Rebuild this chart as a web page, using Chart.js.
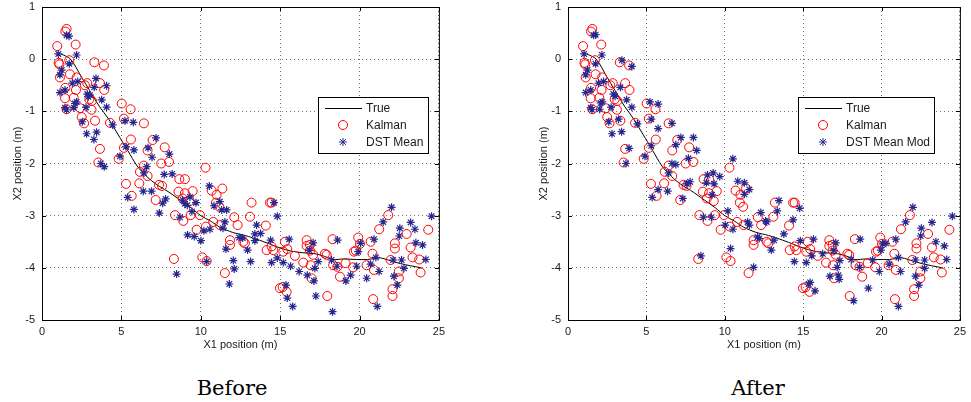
<!DOCTYPE html>
<html>
<head>
<meta charset="utf-8">
<script src="https://cdn.jsdelivr.net/npm/chart.js@4.4.1/dist/chart.umd.min.js"></script>
<style>
body { margin: 0; background: #fff; width: 971px; height: 402px; position: relative; overflow: hidden; }
.box { position: absolute; top: 0; }
.cap { position: absolute; top: 376px; font-family: "DejaVu Serif", serif; font-size: 21px; line-height: 24px; transform: translateX(-50%); color: #000; }
</style>
</head>
<body>
<div class="box" style="left:0;width:450px;height:362px"><canvas id="before" width="450" height="362"></canvas></div>
<div class="box" style="left:526px;width:445px;height:362px"><canvas id="after" width="445" height="362"></canvas></div>
<div class="cap" style="left:232px">Before</div>
<div class="cap" style="left:758px">After</div>
<script>
// ---- data ----
const xTicks = [0, 5, 10, 15, 20, 25];
const yTicks = [-5, -4, -3, -2, -1, 0, 1];

const trueX = [1.2, 1.8, 2.5, 3.0, 3.6, 4.2, 4.8, 5.4, 6.0, 6.6, 7.2, 8.0, 8.7, 9.4, 10.0, 10.6, 11.2, 12.0, 12.8, 13.7, 14.4, 15.0, 15.7, 16.4, 17.2, 17.8, 18.3, 19.0, 19.8, 20.5, 21.3, 22.0, 22.6, 23.2, 23.9];
const trueY = [0.1, 0.0, -0.35, -0.6, -0.9, -1.15, -1.45, -1.75, -2.05, -2.25, -2.4, -2.55, -2.7, -2.85, -3.0, -3.1, -3.22, -3.32, -3.38, -3.47, -3.55, -3.62, -3.68, -3.71, -3.73, -3.78, -3.84, -3.83, -3.84, -3.84, -3.81, -3.87, -3.92, -3.96, -4.0];

const kalman = [
  [1.55,0.58],[1.47,0.53],[0.96,0.25],[2.12,0.28],[1.72,-0.02],[1.05,-0.07],[1.1,-0.1],[3.3,-0.06],[3.9,-0.12],[1.13,-0.35],
  [1.76,-0.29],[2.18,-0.35],[2.7,-0.5],[2.85,-0.46],[3.65,-0.46],[3.92,-0.59],[1.47,-0.55],[2.14,-0.59],[1.45,-0.75],[2.0,-0.74],
  [2.98,-0.77],[3.15,-0.8],[2.4,-0.94],[3.12,-0.97],[1.55,-0.96],[5.02,-0.85],[5.58,-0.96],[2.5,-1.11],[2.65,-1.23],[3.34,-1.18],
  [4.28,-1.22],[5.16,-1.14],[6.42,-1.23],[5.6,-1.54],[6.97,-1.55],[3.65,-1.72],[5.16,-1.7],[6.65,-1.75],[7.73,-1.69],[3.55,-1.98],
  [4.83,-1.91],[6.42,-2.04],[7.51,-2.0],[8.0,-1.97],[10.3,-2.08],
  [6.17,-2.16],[6.65,-2.24],[5.29,-2.39],[6.13,-2.38],[7.37,-2.41],[7.56,-2.43],[5.65,-2.62],[7.16,-2.7],[8.65,-2.3],[9.0,-2.3],
  [8.6,-2.54],[9.0,-2.57],[9.49,-2.53],[8.86,-2.67],[9.3,-2.72],[8.38,-2.99],[8.9,-3.1],[9.36,-2.99],[9.95,-2.99],[9.74,-3.27],
  [8.31,-3.83],[10.33,-3.21],[10.1,-3.8],[10.37,-3.87],
  [10.69,-2.52],[11.0,-2.6],[11.36,-2.48],[10.96,-2.75],[11.17,-2.83],[10.79,-3.12],[11.21,-3.18],[11.84,-3.47],[11.84,-3.56],[12.11,-3.03],
  [12.32,-3.18],[11.52,-4.1],[12.68,-3.5],[12.78,-3.53],[13.1,-3.02],[13.2,-2.75],[14.1,-3.19],[14.36,-2.75],[14.46,-2.75],[14.15,-3.66],
  [14.46,-3.59],[14.57,-3.66],[14.99,-4.39],[15.16,-4.37],[15.41,-4.46],[15.3,-3.5],[15.2,-3.69],[15.45,-3.64],[15.93,-3.77],[16.46,-3.9],
  [16.67,-3.47],[16.67,-3.58],[16.88,-3.56],[16.88,-3.67],[16.92,-3.95],[16.98,-4.2],[17.08,-3.75],[17.82,-3.73],[17.93,-3.75],[17.97,-4.54],
  [18.3,-3.45],[18.34,-3.95],[18.6,-3.98],[18.77,-4.17],[19.12,-3.91],[19.6,-3.99],[19.65,-3.69],[19.77,-3.67],[19.92,-3.42],[20.03,-3.54],
  [20.45,-3.95],[20.7,-3.5],[20.82,-3.73],[20.86,-4.6],[20.91,-4.04],[21.24,-3.26],[21.81,-2.99],[21.96,-3.85],[22.08,-4.41],[22.08,-4.54],
  [22.23,-3.53],[22.23,-3.63],[22.48,-4.07],[22.48,-4.2],[22.97,-3.35],[23.22,-3.61],[23.34,-3.8],[23.76,-3.84],[23.85,-4.09],[24.33,-3.27]
];

const dstBefore = [
  [1.55,0.46],[1.7,0.44],[1.03,0.1],[2.18,0.08],[1.72,-0.09],[1.24,-0.21],[1.13,-0.3],[1.13,-0.64],[1.45,-0.59],[1.91,-0.46],
  [2.25,-0.43],[2.85,-0.67],[2.92,-0.72],[3.02,-0.69],[3.4,-0.37],[3.29,-0.54],[4.07,-0.51],[3.76,-0.78],[4.07,-0.92],[2.18,-0.82],
  [2.08,-0.85],[1.55,-0.97],[1.45,-0.93],[2.0,-0.93],[2.77,-0.92],[2.54,-1.2],[4.45,-1.26],[5.23,-1.18],[5.75,-1.21],[2.81,-1.43],
  [3.44,-1.4],[3.27,-1.54],[5.29,-1.68],[5.79,-1.74],[6.68,-1.7],[7.18,-1.51],[8.02,-1.82],[6.93,-1.88],[4.91,-1.86],[3.7,-2.0],
  [3.92,-2.06],[6.59,-2.06],
  [6.42,-2.18],[7.7,-2.21],[8.2,-2.2],[6.38,-2.53],[6.9,-2.53],[5.4,-2.65],[5.79,-2.88],[7.39,-2.95],[7.6,-2.76],[7.79,-2.68],
  [8.69,-3.03],[8.86,-2.7],[9.0,-2.77],[9.15,-2.8],[9.32,-2.64],[9.44,-2.92],[9.7,-2.75],[9.17,-3.37],[9.59,-3.4],[10.01,-3.48],
  [10.2,-3.29],[10.58,-3.26],[10.54,-2.43],[10.83,-2.81],[11.2,-2.73],[11.32,-2.89],[11.63,-2.89],[11.52,-3.12],[11.4,-3.24],[10.37,-3.88],
  [8.48,-4.12],[12.11,-4.02],[12.05,-3.86],[11.8,-4.31],[11.59,-3.64],[12.42,-3.42],[12.64,-3.43],[12.95,-3.66],[13.14,-3.88],[13.41,-3.35],
  [13.52,-3.18],[13.41,-3.48],[13.77,-3.34],[14.4,-3.47],[14.61,-2.75],[14.82,-3.01],[14.46,-3.9],[14.82,-3.81],[15.2,-3.9],[15.37,-4.33],
  [15.45,-4.58],[15.57,-3.45],[15.79,-4.74],[15.66,-3.97],[16.2,-4.07],[16.71,-4.14],[16.84,-3.66],[17.08,-3.52],[17.13,-4.25],[17.19,-4.01],
  [17.25,-4.54],[17.4,-3.88],[18.24,-3.85],[18.3,-4.84],[18.58,-3.97],[18.62,-3.47],[19.14,-4.25],[19.44,-4.14],[19.82,-3.97],[20.07,-3.53],
  [19.92,-3.69],[20.45,-4.2],[20.7,-3.93],[20.91,-3.45],[21.03,-3.8],[21.12,-4.74],[21.24,-4.07],[21.49,-3.12],[22.02,-2.84],[22.12,-3.85],
  [22.17,-4.16],[22.38,-4.33],[22.54,-3.24],[22.5,-3.39],[22.65,-3.85],[22.8,-4.01],[23.22,-3.13],[23.49,-3.26],[23.55,-3.52],[23.97,-3.56],
  [24.18,-3.84],[24.54,-3.01]
];

const dstAfter = [
  [1.64,0.46],[1.76,0.47],[1.03,0.1],[2.16,0.08],[1.76,-0.09],[1.24,-0.21],[1.13,-0.3],[3.44,-0.02],[4.07,-0.14],[1.13,-0.64],
  [1.45,-0.59],[1.95,-0.46],[2.27,-0.43],[2.9,-0.67],[3.0,-0.71],[3.34,-0.54],[3.74,-0.78],[4.07,-0.92],[2.18,-0.82],[2.08,-0.84],
  [1.53,-0.97],[1.45,-0.93],[2.02,-0.96],[2.75,-0.92],[2.6,-1.2],[3.23,-1.15],[4.43,-1.24],[2.81,-1.43],[3.42,-1.39],[5.23,-0.82],
  [5.75,-0.86],[5.31,-1.15],[6.63,-1.23],[5.75,-1.33],[3.9,-1.71],[5.31,-1.66],[6.88,-1.64],[7.2,-1.5],[8.0,-1.5],[8.21,-1.75],
  [7.68,-1.9],[4.91,-1.86],[3.7,-2.0],[6.63,-2.0],[6.88,-2.02],[10.52,-1.91],
  [6.42,-2.18],[7.58,-2.39],[7.79,-2.35],[5.75,-2.5],[6.36,-2.53],[5.37,-2.65],[7.32,-2.67],[8.9,-2.22],[9.26,-2.18],[9.68,-2.25],
  [8.83,-2.37],[9.32,-2.39],[9.19,-2.6],[8.63,-3.03],[9.15,-3.03],[10.03,-3.18],[10.2,-2.91],[10.52,-3.26],[10.37,-3.63],[8.48,-3.77],
  [11.84,-3.99],[10.83,-2.34],[11.25,-2.37],[11.57,-2.5],[11.25,-2.59],[11.46,-3.12],[11.57,-3.18],[12.09,-3.41],[12.2,-3.44],[12.3,-2.94],
  [12.61,-3.1],
  [13.46,-2.71],[13.35,-2.91],[12.68,-3.12],[13.77,-3.35],[12.97,-3.66],[13.14,-3.47],[14.36,-3.08],[14.44,-3.88],[14.78,-2.86],[14.82,-3.48],
  [15.2,-3.9],[15.35,-4.31],[15.45,-4.28],[15.66,-3.45],[15.55,-3.77],[15.76,-4.44],[16.25,-3.73],[16.71,-4.16],[16.96,-3.67],[17.08,-3.52],
  [17.17,-3.99],[17.25,-4.14],[17.3,-4.22],[17.34,-3.86],[18.07,-3.84],[18.22,-4.63],[18.6,-3.99],[18.64,-3.45],[19.16,-4.39],[19.44,-3.85],
  [19.86,-4.07],[19.96,-3.66],[20.07,-3.54],[20.28,-3.53],[20.49,-3.93],[20.91,-3.45],[21.08,-3.8],[21.08,-4.74],[21.22,-4.07],[21.54,-3.12],
  [22.0,-2.84],[22.17,-3.85],[22.17,-4.16],[22.38,-4.33],[22.54,-3.24],[22.5,-3.39],[22.75,-3.85],[22.75,-4.01],[23.22,-3.13],[23.47,-3.5],
  [24.01,-3.58],[24.16,-3.84],[24.52,-3.01]
];

// ---- style ----
const RED = '#ff0000';
const BLUE = '#27278f';
const FONT = { family: '"Liberation Sans", Arial, Helvetica, sans-serif', size: 11 };
const TXT = '#1a1a1a';

const toXY = pts => pts.map(p => ({ x: p[0], y: p[1] }));

function drawStar(ctx, cx, cy, r) {
  const d = r * 0.72;
  ctx.beginPath();
  ctx.moveTo(cx - r, cy); ctx.lineTo(cx + r, cy);
  ctx.moveTo(cx, cy - r); ctx.lineTo(cx, cy + r);
  ctx.moveTo(cx - d, cy - d); ctx.lineTo(cx + d, cy + d);
  ctx.moveTo(cx - d, cy + d); ctx.lineTo(cx + d, cy - d);
  ctx.stroke();
}

// box round the axes, ticks pointing in, legend inside
const matlabFrame = {
  id: 'matlabFrame',
  afterDraw(chart, args, opts) {
    const { ctx, chartArea: a, scales } = chart;
    ctx.save();
    ctx.strokeStyle = '#000';
    ctx.lineWidth = 1;
    ctx.strokeRect(a.left + 0.5, a.top + 0.5, a.right - a.left, a.bottom - a.top);

    const tl = 4;
    ctx.beginPath();
    xTicks.forEach(v => {
      const px = Math.round(scales.x.getPixelForValue(v)) + 0.5;
      ctx.moveTo(px, a.bottom); ctx.lineTo(px, a.bottom - tl);
      ctx.moveTo(px, a.top); ctx.lineTo(px, a.top + tl);
    });
    yTicks.forEach(v => {
      const py = Math.round(scales.y.getPixelForValue(v)) + 0.5;
      ctx.moveTo(a.left, py); ctx.lineTo(a.left + tl, py);
      ctx.moveTo(a.right, py); ctx.lineTo(a.right - tl, py);
    });
    ctx.stroke();

    // legend
    const lx = opts.x, ly = 97, lw = opts.w, lh = 56;
    ctx.fillStyle = '#fff';
    ctx.fillRect(lx, ly, lw, lh);
    ctx.strokeStyle = '#000';
    ctx.strokeRect(lx + 0.5, ly + 0.5, lw, lh);
    ctx.font = '12px ' + FONT.family;
    ctx.textBaseline = 'middle';
    ctx.fillStyle = TXT;
    const rows = [108, 125, 142];
    chart.data.datasets.forEach((ds, i) => {
      const ry = rows[i];
      if (ds.showLine) {
        ctx.strokeStyle = '#000';
        ctx.beginPath();
        ctx.moveTo(lx + 7, ry + 0.5); ctx.lineTo(lx + 44, ry + 0.5);
        ctx.stroke();
      } else if (ds.pointStyle === 'circle') {
        ctx.strokeStyle = RED;
        ctx.beginPath();
        ctx.arc(lx + 25, ry, 4.5, 0, Math.PI * 2);
        ctx.stroke();
      } else {
        ctx.strokeStyle = BLUE;
        drawStar(ctx, lx + 25, ry, 4);
      }
      ctx.fillStyle = TXT;
      ctx.fillText(ds.label, lx + 48, ry + 1);
    });
    ctx.restore();
  }
};

function makeChart(id, dstLabel, dstPts, legendX, legendW, padRight) {
  const ctx = document.getElementById(id).getContext('2d');
  return new Chart(ctx, {
    type: 'scatter',
    data: {
      datasets: [
        {
          label: 'True',
          data: trueX.map((x, i) => ({ x: x, y: trueY[i] })),
          showLine: true,
          borderColor: '#000',
          borderWidth: 1,
          pointRadius: 0,
          tension: 0.3,
          order: 2
        },
        {
          label: 'Kalman',
          data: toXY(kalman),
          pointStyle: 'circle',
          pointRadius: 4.5,
          borderColor: RED,
          backgroundColor: 'rgba(0,0,0,0)',
          borderWidth: 1,
          order: 1
        },
        {
          label: dstLabel,
          data: toXY(dstPts),
          pointStyle: 'star',
          pointRadius: 4,
          borderColor: BLUE,
          backgroundColor: BLUE,
          borderWidth: 1.2,
          order: 0
        }
      ]
    },
    options: {
      responsive: false,
      animation: false,
      events: [],
      layout: { padding: { left: 0, top: 0, right: padRight, bottom: 0 } },
      plugins: {
        legend: { display: false },
        tooltip: { enabled: false },
        matlabFrame: { x: legendX, w: legendW }
      },
      scales: {
        x: {
          type: 'linear',
          min: 0,
          max: 25,
          afterBuildTicks: s => { s.ticks = xTicks.map(v => ({ value: v })); },
          afterFit: s => { s.height = 42; },
          ticks: { font: FONT, color: TXT, padding: 5, maxRotation: 0 },
          grid: { color: 'rgba(0,0,0,0.55)', drawTicks: false, lineWidth: 1 },
          border: { display: false, dash: [1, 3] },
          title: { display: true, text: 'X1 position (m)', font: FONT, color: TXT, padding: { top: 0, bottom: 10 } }
        },
        y: {
          type: 'linear',
          min: -5,
          max: 1,
          afterBuildTicks: s => { s.ticks = yTicks.map(v => ({ value: v })); },
          afterFit: s => { s.width = 42; s.paddingTop = 7; s.paddingBottom = 0; },
          ticks: { font: FONT, color: TXT, padding: 7 },
          grid: { color: 'rgba(0,0,0,0.55)', drawTicks: false, lineWidth: 1 },
          border: { display: false, dash: [1, 3] },
          title: { display: true, text: 'X2 position (m)', font: FONT, color: TXT, padding: { top: 11, bottom: 0 } }
        }
      }
    },
    plugins: [matlabFrame]
  });
}

makeChart('before', 'DST Mean', dstBefore, 318, 110, 11);
makeChart('after', 'DST Mean Mod', dstAfter, 272, 136, 6);
</script>
</body>
</html>
